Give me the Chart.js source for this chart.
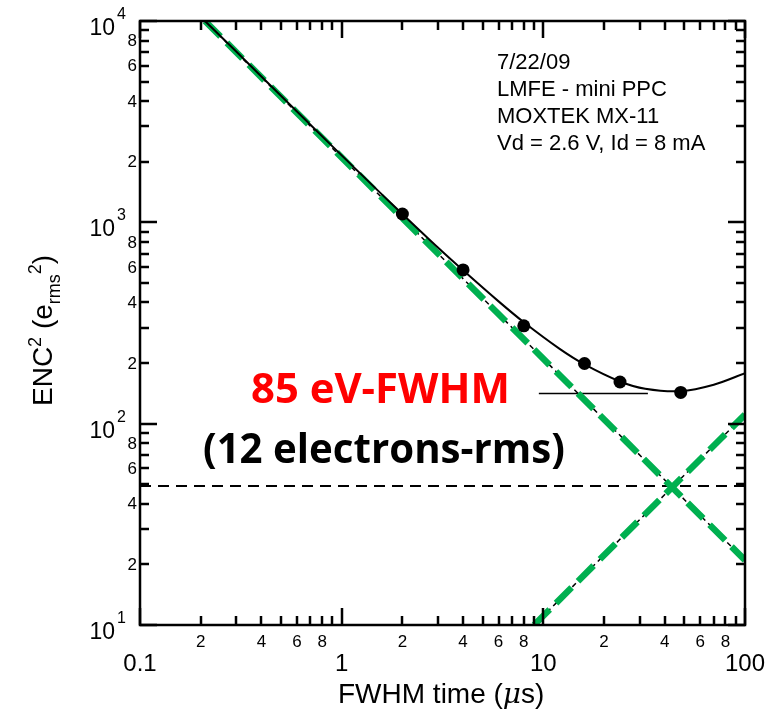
<!DOCTYPE html>
<html>
<head>
<meta charset="utf-8">
<script src="https://cdn.jsdelivr.net/npm/chart.js@4.4.0/dist/chart.umd.min.js"></script>
<style>
body { margin: 0; background: #fff; }
</style>
</head>
<body>
<canvas id="miGrafica" width="779" height="712"></canvas>
<script>
// measured points
var tiempo = [2, 4, 8, 16, 24, 48]
var enc2 = [1100, 580, 306, 199, 161, 143]

// solid fit curve
var ajusteT = [0.21, 0.3, 0.5, 0.7, 1, 1.5, 2, 3, 4, 6, 8, 12, 16, 24, 32, 48, 70, 100]
var ajusteY = [10000, 7050, 4250, 3050, 2150, 1450, 1100, 750, 578, 405, 319, 236, 197, 162, 149, 145, 156, 178]

// green asymptotes
var serieT = [0.21, 100]
var serieY = [10000, 21]
var paraleloT = [9, 100]
var paraleloY = [10, 111]

// 1/f level (dashed) and the short solid marker line
var planoT = [0.1, 100]
var planoY = [49, 49]
var nivelT = [9.5, 33]
var nivelY = [141, 141]

// ticks
var xMayores = [0.1, 1, 10, 100]
var xEtiquetas = ['0.1', '1', '10', '100']
var yMayores = [10, 100, 1000, 10000]
var yExponentes = ['1', '2', '3', '4']
var menores = [2, 3, 4, 5, 6, 7, 8, 9]
var menoresConTexto = [2, 4, 6, 8]

var notas = ['7/22/09', 'LMFE - mini PPC', 'MOXTEK MX-11', 'Vd = 2.6 V, Id = 8 mA']

var VERDE = '#00b050'
var SANS = '"Liberation Sans", Arial, sans-serif'

function pares(xs, ys) {
    return xs.map(function (x, i) { return { x: x, y: ys[i] } })
}

function ajustarFuente(ctx, texto, familia, ancho) {
    ctx.font = 'bold 40px ' + familia
    return 40 * ancho / ctx.measureText(texto).width
}

var ejes = {
    id: 'ejes',
    afterDraw: function (chart) {
        var ctx = chart.ctx
        var a = chart.chartArea
        var sx = chart.scales.x
        var sy = chart.scales.y
        ctx.save()
        ctx.fillStyle = '#000000'
        ctx.strokeStyle = '#000000'

        // frame
        ctx.lineWidth = 2.5
        ctx.strokeRect(a.left, a.top, a.right - a.left, a.bottom - a.top)

        // ticks, inward on all four sides, drawn over the frame
        var ticksX = []
        var ticksY = []
        xMayores.forEach(function (v, d) {
            ticksX.push([sx.getPixelForValue(v), 17])
            if (d < xMayores.length - 1) menores.forEach(function (m) { ticksX.push([sx.getPixelForValue(v * m), 9]) })
        })
        yMayores.forEach(function (v, d) {
            ticksY.push([sy.getPixelForValue(v), 17])
            if (d < yMayores.length - 1) menores.forEach(function (m) { ticksY.push([sy.getPixelForValue(v * m), 9]) })
        })
        ctx.setLineDash([])
        ctx.lineCap = 'butt'
        ctx.lineWidth = 2.5
        ctx.beginPath()
        ticksX.forEach(function (t) {
            var x0 = Math.round(t[0])
            ctx.moveTo(x0, a.bottom)
            ctx.lineTo(x0, a.bottom - t[1])
            ctx.moveTo(x0, a.top)
            ctx.lineTo(x0, a.top + t[1])
        })
        ticksY.forEach(function (t) {
            var y0 = Math.round(t[0])
            ctx.moveTo(a.left, y0)
            ctx.lineTo(a.left + t[1], y0)
            ctx.moveTo(a.right, y0)
            ctx.lineTo(a.right - t[1], y0)
        })
        ctx.stroke()

        // x labels
        ctx.textAlign = 'center'
        ctx.textBaseline = 'alphabetic'
        for (var i = 0; i < xMayores.length; i++) {
            ctx.font = '24px ' + SANS
            ctx.fillText(xEtiquetas[i], sx.getPixelForValue(xMayores[i]), 671)
            if (i == xMayores.length - 1) continue
            ctx.font = '17px ' + SANS
            for (var k = 0; k < menoresConTexto.length; k++) {
                ctx.fillText(String(menoresConTexto[k]), sx.getPixelForValue(xMayores[i] * menoresConTexto[k]), 647)
            }
        }

        // y labels
        for (var j = 0; j < yMayores.length; j++) {
            var ty = sy.getPixelForValue(yMayores[j])
            ctx.textAlign = 'right'
            ctx.textBaseline = 'alphabetic'
            ctx.font = '23px ' + SANS
            ctx.fillText('10', 115, ty + 14)
            ctx.textAlign = 'left'
            ctx.font = '16px ' + SANS
            ctx.fillText(yExponentes[j], 117, ty - 2)
            if (j == yMayores.length - 1) continue
            ctx.textAlign = 'right'
            ctx.textBaseline = 'middle'
            ctx.font = '17px ' + SANS
            for (var h = 0; h < menoresConTexto.length; h++) {
                ctx.fillText(String(menoresConTexto[h]), 137, sy.getPixelForValue(yMayores[j] * menoresConTexto[h]) + 1)
            }
        }

        // x title
        ctx.textAlign = 'left'
        ctx.textBaseline = 'alphabetic'
        var xt = 338
        var partes = [['FWHM time (', '28px ' + SANS], ['\u03bc', 'italic 28px "DejaVu Serif", serif'], ['s)', '28px ' + SANS]]
        partes.forEach(function (p) {
            ctx.font = p[1]
            ctx.fillText(p[0], xt, 703)
            xt += ctx.measureText(p[0]).width
        })

        // y title, rotated
        ctx.save()
        ctx.translate(52, 406)
        ctx.rotate(-Math.PI / 2)
        var u = 0
        var trozos = [['ENC', 28, 0], ['2', 18, -11], [' (e', 28, 0], ['rms', 18, 8], ['2', 18, -11], [')', 28, 0]]
        trozos.forEach(function (t) {
            ctx.font = t[1] + 'px ' + SANS
            ctx.fillText(t[0], u, t[2])
            u += ctx.measureText(t[0]).width
        })
        ctx.restore()

        // notes at top right
        ctx.font = '22px ' + SANS
        for (var r = 0; r < notas.length; r++) {
            ctx.fillText(notas[r], 497, 69 + r * 27)
        }

        // big labels
        var fam = '"Open Sans", sans-serif'
        var t1 = '85 eV-FWHM'
        ctx.font = 'bold ' + ajustarFuente(ctx, t1, fam, 259) + 'px ' + fam
        ctx.fillStyle = '#ff0000'
        ctx.fillText(t1, 251, 403)
        var t2 = '(12 electrons-rms)'
        ctx.font = 'bold ' + ajustarFuente(ctx, t2, fam, 362) + 'px ' + fam
        ctx.fillStyle = '#000000'
        ctx.fillText(t2, 203, 463)

        ctx.restore()
    }
}

new Chart('miGrafica', {
    type: 'line',
    data: {
        datasets: [
            {
                data: pares(tiempo, enc2),
                showLine: false,
                pointRadius: 6.5,
                pointBackgroundColor: '#000',
                pointBorderWidth: 0,
                order: 0
            },
            {
                data: pares(ajusteT, ajusteY),
                borderColor: '#000',
                borderWidth: 2,
                pointRadius: 0,
                tension: 0.3,
                order: 1
            },
            {
                data: pares(serieT, serieY),
                borderColor: VERDE,
                borderWidth: 6.5,
                borderDash: [22, 9],
                pointRadius: 0,
                order: 2
            },
            {
                data: pares(paraleloT, paraleloY),
                borderColor: VERDE,
                borderWidth: 6.5,
                borderDash: [22, 9],
                pointRadius: 0,
                order: 2
            },
            {
                data: pares(serieT, serieY),
                borderColor: '#000',
                borderWidth: 1.5,
                borderDash: [5, 4],
                pointRadius: 0,
                order: 3
            },
            {
                data: pares(paraleloT, paraleloY),
                borderColor: '#000',
                borderWidth: 1.5,
                borderDash: [5, 4],
                pointRadius: 0,
                order: 3
            },
            {
                data: pares(planoT, planoY),
                borderColor: '#000',
                borderWidth: 2,
                borderDash: [11, 7],
                pointRadius: 0,
                order: 4
            },
            {
                data: pares(nivelT, nivelY),
                borderColor: '#000',
                borderWidth: 1.5,
                pointRadius: 0,
                order: 4
            }
        ]
    },
    options: {
        responsive: false,
        animation: false,
        layout: { padding: { left: 140, right: 34, top: 21, bottom: 87 } },
        plugins: { legend: { display: false }, tooltip: { enabled: false } },
        scales: {
            x: { type: 'logarithmic', min: 0.1, max: 100, display: false },
            y: { type: 'logarithmic', min: 10, max: 10000, display: false }
        }
    },
    plugins: [ejes]
})
</script>
</body>
</html>
